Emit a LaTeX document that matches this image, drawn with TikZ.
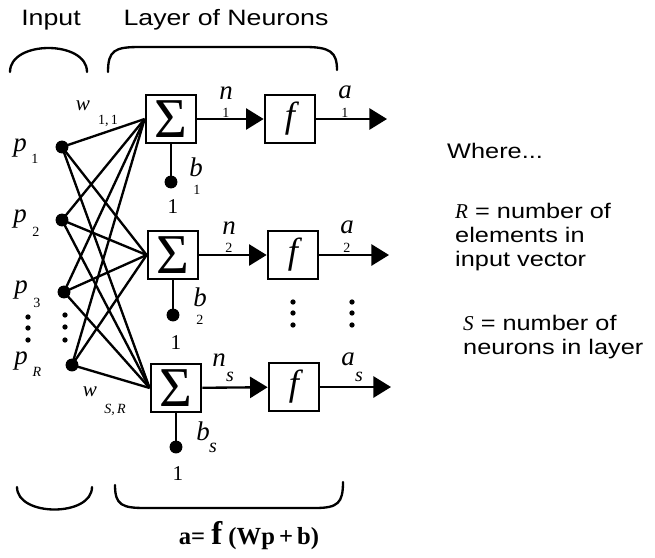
\documentclass[tikz,border=0pt]{standalone}
\usepackage{fontspec}
\setmainfont{Liberation Serif}
\setsansfont{Liberation Sans}[FakeStretch=1.2]
\usetikzlibrary{arrows.meta,positioning,calc}

\begin{document}
\begin{tikzpicture}[x=0.03cm,y=-0.03cm,
 blk/.style={draw,line width=2pt,minimum width=43pt,minimum height=41pt,inner sep=0pt},
 dot/.style={circle,fill,inner sep=0pt,minimum size=11pt},
 sdot/.style={circle,fill,inner sep=0pt,minimum size=4.5pt},
 wire/.style={line width=2pt},
 arr/.style={-{Triangle[length=15pt,width=18pt]},line width=2pt},
 lbl/.style={font=\fontsize{23}{23}\selectfont\itshape,inner sep=0pt},
 idx/.style={font=\fontsize{12}{12}\selectfont,inner sep=0pt},
 sidx/.style={font=\fontsize{17}{17}\selectfont\itshape,inner sep=0pt},
 num/.style={font=\fontsize{18}{18}\selectfont,inner sep=0pt},
 txt/.style={font=\sffamily\fontsize{18}{20.5}\selectfont,inner sep=0pt,align=left},
 brace/.style={line width=2pt,line cap=round}]
\useasboundingbox (0,0) rectangle (655,557);
% headings and brackets
\node[txt,font=\sffamily\fontsize{19}{19}\selectfont] (hin) at (51,20) {Input};
\node[txt,font=\sffamily\fontsize{19}{19}\selectfont] (hlay) at (226,20) {Layer of Neurons};
\draw[brace] (10,72) .. controls (10,40) and (87,40) .. (87,72);
\draw[brace] (108,72) .. controls (108,50) and (115,47) .. (140,47) -- (305,47) .. controls (330,47) and (337,52) .. (337,70);
\draw[brace] (17,487) .. controls (17,517) and (92,517) .. (92,487);
\draw[brace] (115,485) .. controls (115,505) and (122,508) .. (145,508) -- (315,508) .. controls (338,508) and (343,503) .. (343,482);
% inputs
\node[dot] (in1) at (62,147) {};
\node[dot] (in2) at (62,220) {};
\node[dot] (in3) at (64,292) {};
\node[dot] (inR) at (72,365) {};
\node[lbl] (p1) at (20,148) {p}; \node[idx] at (35,159) {1};
\node[lbl] (p2) at (20,219) {p}; \node[idx] at (36,232) {2};
\node[lbl] (p3) at (21,290) {p}; \node[idx] at (37,303) {3};
\node[lbl] (pR) at (21,361) {p}; \node[idx,font=\fontsize{12}{12}\selectfont\itshape] at (37,372) {R};
\foreach \y in {317,328,340} \node[sdot] at (28,\y) {};
\foreach \y in {315,327,340} \node[sdot] at (65,\y) {};
% neurons
\node[blk] (sum1) at (171,119) {\fontsize{48}{48}\selectfont Σ};
\node[blk] (act1) at (290,119) {\fontsize{31}{31}\selectfont\itshape f};
\node[blk] (sum2) at (173,255) {\fontsize{48}{48}\selectfont Σ};
\node[blk] (act2) at (293,255) {\fontsize{31}{31}\selectfont\itshape f};
\node[blk] (sum3) at (176,388) {\fontsize{48}{48}\selectfont Σ};
\node[blk] (act3) at (294,387) {\fontsize{31}{31}\selectfont\itshape f};
\coordinate (out1) at (387,119);
\coordinate (out2) at (389,255);
\coordinate (out3) at (391,387);
\foreach \i in {in1,in2,in3,inR}
  \foreach \s in {sum1,sum2,sum3}
    \draw[wire] (\i.center) -- (\s.west);
\foreach \k in {1,2,3} {
  \draw[arr] (sum\k) -- (act\k);
  \draw[arr] (act\k) -- (out\k);
}
% weights
\node[lbl,font=\fontsize{18}{18}\selectfont\itshape] (w11) at (83,106) {w};
\node[idx] at (108,121) {1,\,1};
\node[lbl,font=\fontsize{18}{18}\selectfont\itshape] (wSR) at (90,392) {w};
\node[idx,font=\fontsize{12}{12}\selectfont\itshape] at (115,410) {S,\,R};
% biases
\node[dot] (bias1) at (171,182) {};
\node[dot] (bias2) at (173,315) {};
\node[dot] (bias3) at (176,447) {};
\foreach \k in {1,2,3} \draw[wire] (sum\k.south) -- (bias\k.center);
\node[num] at (173,207) {1};
\node[num] at (176,343) {1};
\node[num] at (178,474) {1};
\node[lbl] at (196,167) {b}; \node[idx] at (197,190) {1};
\node[lbl] at (200,297) {b}; \node[idx] at (200,320) {2};
\node[lbl] at (203,431) {b}; \node[sidx] at (213,448) {s};
% net inputs and outputs
\node[lbl] at (226,93) {n}; \node[idx] at (226,113) {1};
\node[lbl] at (345,92) {a}; \node[idx] at (345,113) {1};
\node[lbl] at (229,228) {n}; \node[idx] at (229,248) {2};
\node[lbl] at (347,227) {a}; \node[idx] at (347,248) {2};
\node[lbl] at (219,360) {n}; \node[sidx] at (230,377) {s};
\node[lbl] at (348,359) {a}; \node[sidx] at (359,377) {s};
\foreach \y in {302,313,325} {
  \node[sdot] at (293,\y) {};
  \node[sdot] at (352,\y) {};
}
% legend
\node[txt,anchor=west] (where) at (447,151) {Where...};
\node[txt,anchor=north west] (defR) at (455,203) {{\rmfamily\itshape R} = number of\\elements in\\input vector};
\node[txt,anchor=north west] (defS) at (463,315) {{\rmfamily\itshape S} = number of\\neurons in layer};
\node[font=\bfseries\fontsize{21}{21}\selectfont] (eq) at (249,536) {a= {\fontsize{28}{28}\selectfont f} (Wp\,+\,b)};
\end{tikzpicture}
\end{document}
